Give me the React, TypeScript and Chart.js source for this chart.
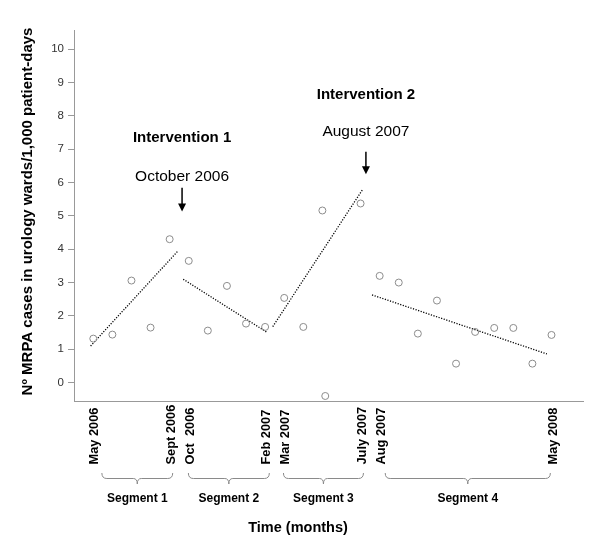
import React, { useEffect, useRef } from "react";
import { Chart, registerables } from "chart.js";

Chart.register(...registerables);

// Months counted from May 2006 (= 0)
const monthIndex = [0, 1, 2, 3, 4, 5, 6, 7, 8, 9, 10, 11, 12, 12.15, 14, 15, 16, 17, 18, 19, 20, 21, 22, 23, 24];
const caseRates = [1.32, 1.44, 3.06, 1.65, 4.3, 3.65, 1.56, 2.9, 1.77, 1.67, 2.54, 1.67, 5.16, -0.4, 5.37, 3.2, 3.0, 1.47, 2.46, 0.57, 1.52, 1.64, 1.64, 0.57, 1.43];

const tickMonths = [0, 4, 5, 9, 10, 14, 15, 24];
const tickLabels = ["May 2006", "Sept 2006", "Oct  2006", "Feb 2007", "Mar 2007", "July 2007", "Aug 2007", "May 2008"];
const yTicks = [0, 1, 2, 3, 4, 5, 6, 7, 8, 9, 10];

// Segment trend lines: [startMonth, startValue, endMonth, endValue]
const trendStartX = [-0.14, 4.71, 9.4, 14.6];
const trendStartY = [1.1, 3.1, 1.68, 2.63];
const trendEndX = [4.44, 9.12, 14.12, 23.76];
const trendEndY = [3.95, 1.5, 5.8, 0.86];

const segmentNames = ["Segment 1", "Segment 2", "Segment 3", "Segment 4"];
const segmentFrom = [0.45, 4.98, 9.96, 15.29];
const segmentTo = [4.16, 9.22, 14.15, 23.94];

const interventionNames = ["Intervention 1", "Intervention 2"];
const interventionDates = ["October 2006", "August 2007"];
const interventionMonth = [4.65, 14.28];
const interventionTitleY = [7.34, 8.62];
const interventionDateY = [6.18, 7.51];
const arrowFromY = [5.84, 6.92];
const arrowToY = [5.13, 6.25];

const yTitle = "Nº MRPA cases in urology wards/1,000 patient-days";
const xTitle = "Time (months)";

const FONT = "Arial, 'Liberation Sans', sans-serif";

const overlayPlugin = {
  id: "overlay",
  afterDraw(chart: any) {
    const ctx = chart.ctx;
    const xs = chart.scales.x;
    const ys = chart.scales.y;
    const area = chart.chartArea;
    ctx.save();

    // X tick labels (rotated, starting from a common baseline at the bottom)
    ctx.fillStyle = "#000";
    ctx.font = `bold 12.8px ${FONT}`;
    ctx.textAlign = "left";
    ctx.textBaseline = "middle";
    tickMonths.forEach((m, i) => {
      const x = xs.getPixelForValue(m) + 1.5;
      ctx.save();
      ctx.translate(x, 464.5);
      ctx.rotate(-Math.PI / 2);
      ctx.fillText(tickLabels[i], 0, 0);
      ctx.restore();
    });

    // Braces and segment labels
    ctx.strokeStyle = "#8a8a8a";
    ctx.lineWidth = 1;
    const top = 473;
    const mid = 478.5;
    const tip = 484;
    segmentNames.forEach((name, i) => {
      const x1 = xs.getPixelForValue(segmentFrom[i]);
      const x2 = xs.getPixelForValue(segmentTo[i]);
      const xm = (x1 + x2) / 2;
      ctx.beginPath();
      ctx.moveTo(x1, top);
      ctx.quadraticCurveTo(x1, mid, x1 + 5, mid);
      ctx.lineTo(xm - 4, mid);
      ctx.quadraticCurveTo(xm, mid, xm, tip);
      ctx.quadraticCurveTo(xm, mid, xm + 4, mid);
      ctx.lineTo(x2 - 5, mid);
      ctx.quadraticCurveTo(x2, mid, x2, top);
      ctx.stroke();
      ctx.fillStyle = "#000";
      ctx.font = `bold 12px ${FONT}`;
      ctx.textAlign = "center";
      ctx.textBaseline = "middle";
      ctx.fillText(name, xm, 498.5);
    });

    // X title
    ctx.fillStyle = "#000";
    ctx.font = `bold 14.5px ${FONT}`;
    ctx.textAlign = "center";
    ctx.textBaseline = "middle";
    ctx.fillText(xTitle, 298, 528);

    // Y title
    ctx.save();
    ctx.translate(28, (area.top + area.bottom) / 2 - 4);
    ctx.rotate(-Math.PI / 2);
    ctx.font = `bold 15px ${FONT}`;
    ctx.fillText(yTitle, 0, 0);
    ctx.restore();

    // Interventions
    interventionNames.forEach((name, i) => {
      const x = xs.getPixelForValue(interventionMonth[i]);
      ctx.fillStyle = "#000";
      ctx.textAlign = "center";
      ctx.textBaseline = "middle";
      ctx.font = `bold 15px ${FONT}`;
      ctx.fillText(name, x, ys.getPixelForValue(interventionTitleY[i]));
      ctx.font = `15.5px ${FONT}`;
      ctx.fillText(interventionDates[i], x, ys.getPixelForValue(interventionDateY[i]));
      const y1 = ys.getPixelForValue(arrowFromY[i]);
      const y2 = ys.getPixelForValue(arrowToY[i]);
      ctx.strokeStyle = "#000";
      ctx.lineWidth = 1.5;
      ctx.beginPath();
      ctx.moveTo(x, y1);
      ctx.lineTo(x, y2 - 6);
      ctx.stroke();
      ctx.beginPath();
      ctx.moveTo(x - 4, y2 - 8);
      ctx.lineTo(x + 4, y2 - 8);
      ctx.lineTo(x, y2);
      ctx.closePath();
      ctx.fill();
    });

    ctx.restore();
  },
};

export default function App() {
  const canvasRef = useRef<HTMLCanvasElement | null>(null);

  useEffect(() => {
    const canvas = canvasRef.current;
    if (!canvas) return;

    const points = monthIndex.map((m, i) => ({ x: m, y: caseRates[i] }));
    const trendSets = trendStartX.map((sx, i) => ({
      type: "line" as const,
      data: [
        { x: sx, y: trendStartY[i] },
        { x: trendEndX[i], y: trendEndY[i] },
      ],
      borderColor: "#000",
      borderWidth: 1.3,
      borderDash: [1.2, 1.5],
      pointRadius: 0,
      fill: false,
    }));

    const chart = new Chart(canvas, {
      type: "scatter",
      data: {
        datasets: [
          {
            data: points,
            pointRadius: 3.5,
            pointBorderWidth: 1,
            pointBorderColor: "#8c8c8c",
            pointBackgroundColor: "rgba(0,0,0,0)",
            showLine: false,
          } as any,
          ...trendSets,
        ],
      },
      options: {
        animation: false,
        responsive: false,
        maintainAspectRatio: false,
        layout: { padding: { left: 0, right: 17, top: 30, bottom: 0 } },
        plugins: {
          legend: { display: false },
          tooltip: { enabled: false },
        },
        scales: {
          x: {
            type: "linear",
            min: -1.01,
            max: 25.65,
            afterFit: (scale: any) => {
              scale.height = 141;
            },
            afterBuildTicks: (scale: any) => {
              scale.ticks = tickMonths.map((v) => ({ value: v }));
            },
            grid: { display: false },
            border: { display: true, color: "#999", width: 1 },
            ticks: { display: false },
          },
          y: {
            type: "linear",
            min: -0.55,
            max: 10.57,
            afterFit: (scale: any) => {
              scale.width = 74;
            },
            afterBuildTicks: (scale: any) => {
              scale.ticks = yTicks.map((v) => ({ value: v }));
            },
            grid: {
              display: true,
              drawOnChartArea: false,
              drawTicks: true,
              tickLength: 6,
              color: "#999",
            },
            border: { display: true, color: "#999", width: 1 },
            ticks: {
              padding: 4,
              color: "#333",
              font: { family: FONT, size: 11.5 },
            },
          },
        },
      } as any,
      plugins: [overlayPlugin],
    });

    return () => chart.destroy();
  }, []);

  return (
    <div style={{ position: "fixed", left: 0, top: 0, width: 600, height: 542, background: "#fff" }}>
      <canvas ref={canvasRef} width={600} height={542} style={{ width: 600, height: 542, display: "block" }} />
    </div>
  );
}
